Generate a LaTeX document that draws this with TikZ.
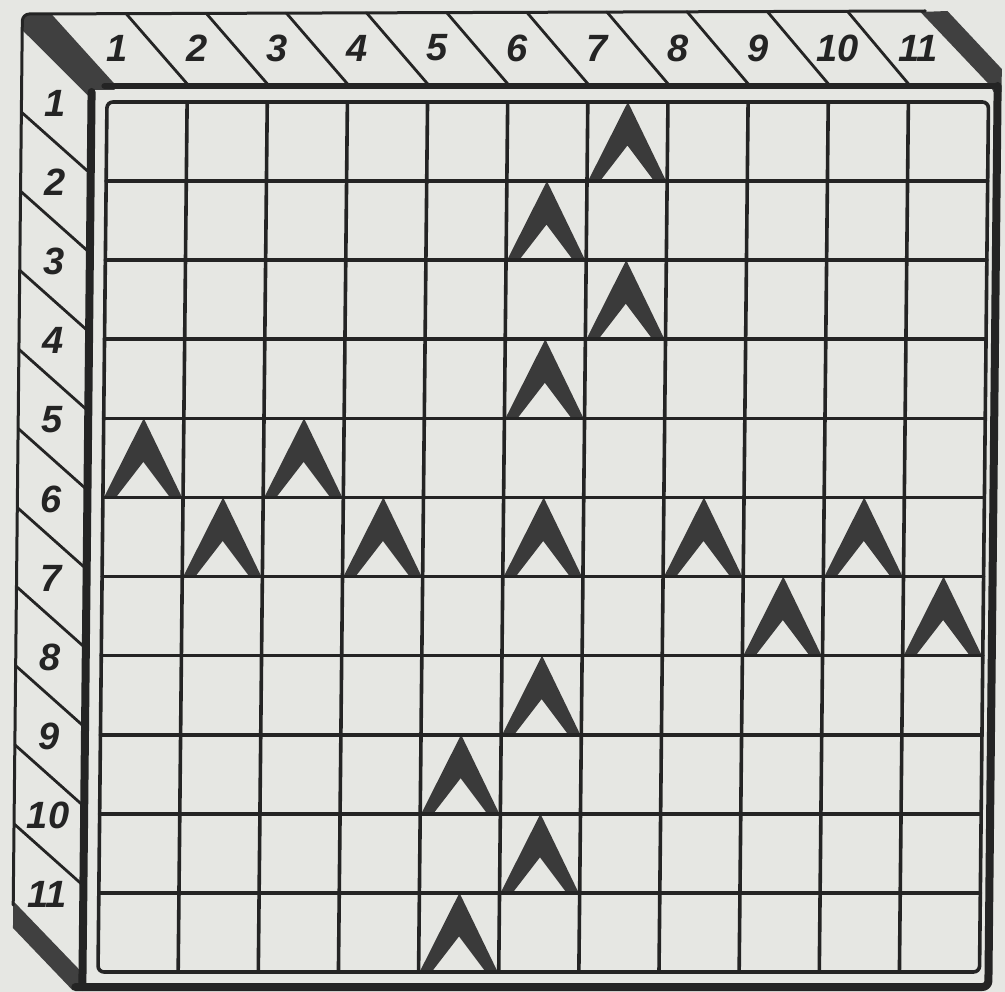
\documentclass[tikz,border=0pt]{standalone}
\usepackage{fontspec}
\setsansfont{Liberation Sans}
\definecolor{paper}{RGB}{230,231,227}
\definecolor{inkc}{RGB}{36,36,36}
\definecolor{chevc}{RGB}{58,58,58}
\definecolor{bandc}{RGB}{64,64,64}
\begin{document}
\begin{tikzpicture}[x=1pt,y=-1pt,
  outline/.style={draw=inkc,line width=3pt,line cap=round,line join=round},
  divider/.style={draw=inkc,line width=2.8pt,line cap=round},
  frameline/.style={draw=inkc,line width=7pt,line cap=round,line join=round},
  gridline/.style={draw=inkc,line width=3.6pt,line cap=round},
  bandfill/.style={fill=bandc},
  chevfill/.style={fill=chevc},
  numlab/.style={font=\sffamily\bfseries\itshape\fontsize{38}{40}\selectfont,text=inkc,inner sep=0pt,anchor=center}
]
\fill[paper] (0,0) rectangle (1005,992);
\useasboundingbox (0,0) rectangle (1005,992);
\begin{scope}[xslant=0.0103,xshift=5.53pt]
  % dark bevel bands
  \fill[bandfill] (17,30) -- (17,19) -- (22,14) -- (46,14) -- (110,84) -- (110,90) -- (87,90) -- (87,99) -- cycle;
  \fill[bandfill] (915,12) -- (942,11) -- (997,69) -- (997,92) -- (989,92) -- (986,86) -- cycle;
  \fill[bandfill] (17,901) -- (89,975) -- (89,990) -- (77,990) -- (17,928) -- cycle;
  % outer edges of the box
  \draw[outline,rounded corners=7pt] (17,905) -- (17,14) -- (920,11);
  % front face frame
  \draw[frameline,line width=6.5pt] (100,86) -- (990,86);
  \draw[frameline,line width=8pt] (87,92) -- (87,987);
  \draw[frameline,line width=8pt,rounded corners=6pt] (993,86) -- (993,987) -- (80,987);
  % strip dividers
  \foreach \k in {1,...,10}{
    \pgfmathsetmacro\xk{102.5+\k*80.14}
    \pgfmathsetmacro\yk{102+\k*79.09}
    \draw[divider] (\xk,84) -- ({\xk-62},{14-0.0034*(\xk-62)});
    \draw[divider] (85,{\yk-9}) -- (17,{\yk-69});
  }
  % strip labels
  \foreach \k in {1,...,11}{
    \pgfmathsetmacro\xc{102.5+(\k-0.5)*80.14-31}
    \pgfmathsetmacro\yc{102+(\k-0.5)*79.09-38}
    \node[numlab] (top\k) at (\xc,48) {\k};
    \node[numlab] (side\k) at (51,\yc) {\k};
  }
  % chevrons
  \foreach \r/\c in {1/7,2/6,3/7,4/6,5/1,5/3,6/2,6/4,6/6,6/8,6/10,7/9,7/11,8/6,9/5,10/6,11/5}{
    \pgfmathsetmacro\xa{102.5+(\c-1)*80.14}
    \pgfmathsetmacro\xb{\xa+80.14}
    \pgfmathsetmacro\xm{\xa+40.07}
    \pgfmathsetmacro\ya{102+(\r-1)*79.09}
    \pgfmathsetmacro\yb{\ya+79.09}
    \pgfmathsetmacro\yn{\ya+0.55*79.09}
    \fill[chevfill] (\xm,\ya) -- (\xb-1,\yb) -- (\xb-13,\yb) -- (\xm,\yn) -- (\xa+13,\yb) -- (\xa+1,\yb) -- cycle;
  }
  % board grid
  \foreach \k in {1,...,10}{
    \pgfmathsetmacro\xk{102.5+\k*80.14}
    \pgfmathsetmacro\yk{102+\k*79.09}
    \draw[gridline] (\xk,102) -- (\xk,972);
    \draw[gridline] (102.5,\yk) -- (984,\yk);
  }
  \draw[gridline,rounded corners=6pt] (102.5,102) rectangle (984,972);
\end{scope}
\end{tikzpicture}
\end{document}
